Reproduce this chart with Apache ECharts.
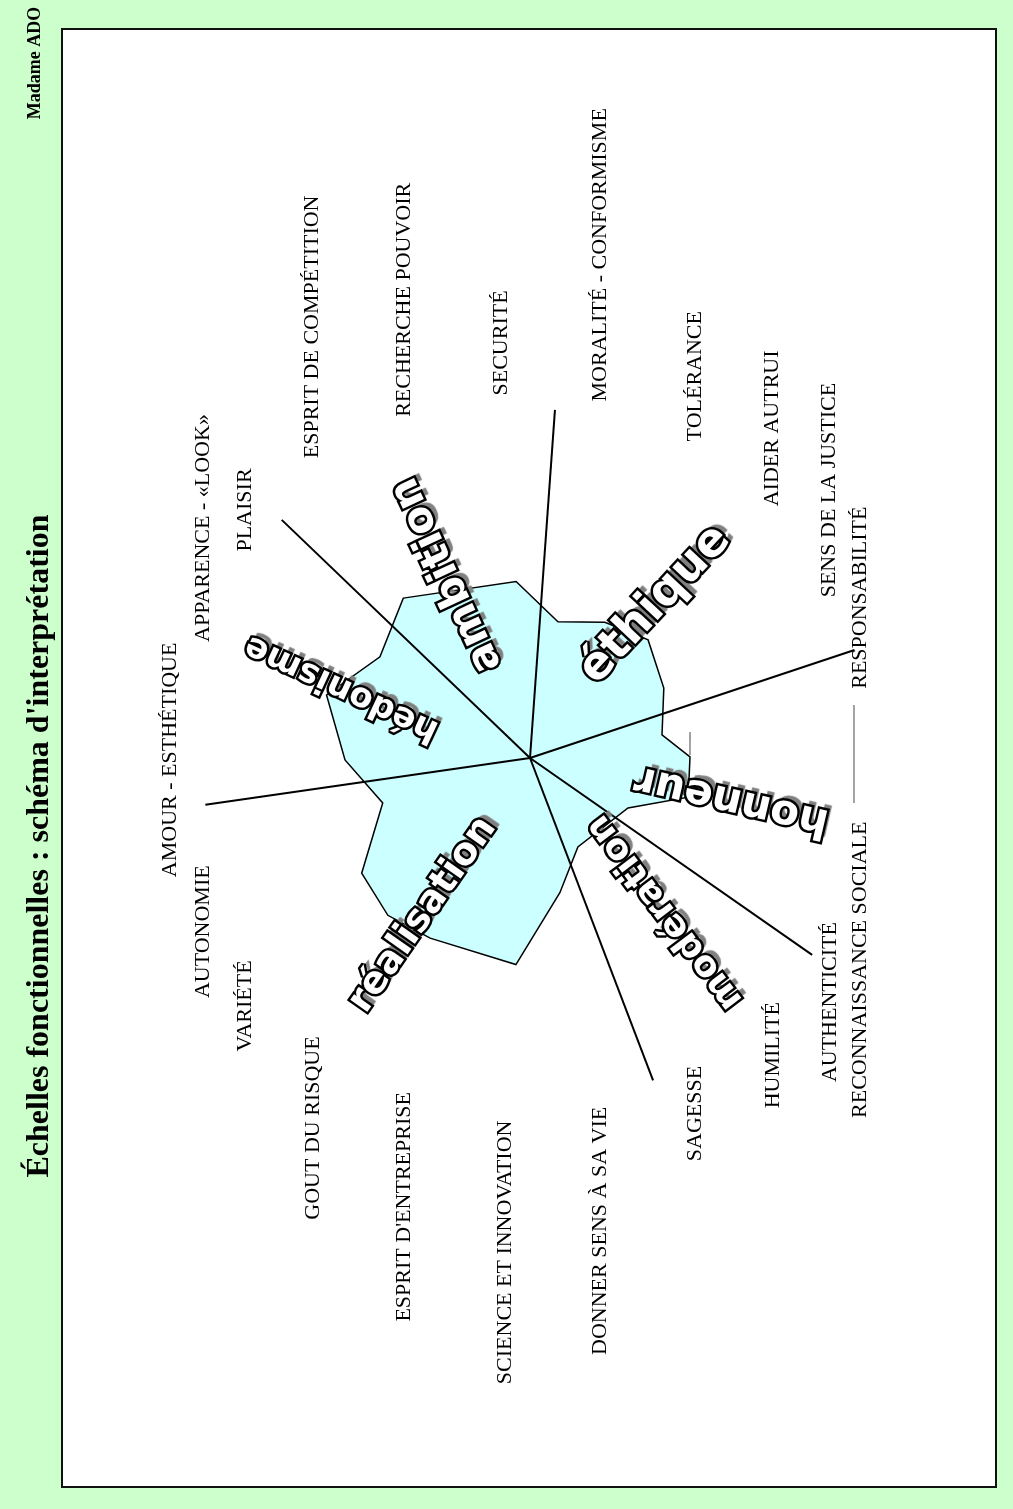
<!DOCTYPE html>
<html>
<head>
<meta charset="utf-8">
<script src="https://cdn.jsdelivr.net/npm/echarts@6/dist/echarts.min.js"></script>
<style>
    html, body { margin: 0; padding: 0; background: #ccffcc; }
    #chart { width: 1013px; height: 1509px; }
</style>
</head>
<body>
<div id="chart"></div>
<script>
// échelles : angle en degrés (0 = droite, sens anti-horaire), distance au centre
const scaleNames = ['AMOUR - ESTHÉTIQUE', 'APPARENCE - «LOOK»', 'PLAISIR', 'ESPRIT DE COMPÉTITION', 'RECHERCHE POUVOIR',
    'SECURITÉ', 'MORALITÉ - CONFORMISME', 'TOLÉRANCE', 'AIDER AUTRUI', 'SENS DE LA JUSTICE', 'RESPONSABILITÉ',
    'RECONNAISSANCE SOCIALE', 'AUTHENTICITÉ', 'HUMILITÉ', 'SAGESSE', 'DONNER SENS À SA VIE', 'SCIENCE ET INNOVATION',
    "ESPRIT D'ENTREPRISE", 'GOUT DU RISQUE', 'VARIÉTÉ', 'AUTONOMIE']
const scaleAngle = [180.3, 144.9, 139, 116.8, 105.3, 93.9, 82.1, 66.6, 53.7, 41.8, 25.9, 327.3, 320.9, 309.3, 294.9, 278.4, 267.1, 254.4, 239.6, 221, 208]
const scaleDist = [360, 400, 378, 483, 475, 416, 508, 416, 409, 402, 367, 392, 387, 384, 392, 478, 495, 466, 429, 378, 370]

// profil (zone bleue)
const profileAngle = [128.4, 94.5, 78.4, 61.1, 45, 27.6, 9.9, 0.4, 346.1, 333, 298.3, 282.5, 266.1, 241, 227.9, 214.4, 197, 180.6, 162.8, 146]
const profileValue = [204, 177, 139, 155, 167, 151, 134, 160, 163, 110, 101, 138, 207, 206, 212, 204, 154, 185, 213, 181]

// axes de séparation
const axisAngle = [136.2, 85.9, 18.4, 325.1, 290.9, 188.2]
const axisLength = [344, 349, 342, 344, 345, 328]

// traits de rappel [r1, a1, r2, a2]
const leaders = [[328.3, 9.3, 327.1, 352.1], [162.1, 9.2, 160, 1.1]]

// familles
const groupNames = ['ambition', 'éthique', 'honneur', 'modération', 'réalisation', 'hédonisme']
const groupAngle = [114.4, 50.7, 348.3, 311.2, 235.7, 159.6]
const groupDist = [201, 198, 206, 205, 190, 201]

const wordRotate = [115, 47, 167, 127, 55, 155]
const wordSize = [42, 46, 42, 36, 38, 34]

const chart = echarts.init(document.getElementById('chart'))

// 3 couches (zlevel) : ombre grise, contour noir, remplissage blanc
function wordLayer(level, style) {
    return {
        type: 'scatter', coordinateSystem: 'polar', silent: true, zlevel: level, z: 2,
        symbolSize: 0,
        itemStyle: { opacity: 1 },
        data: groupNames.map((n, i) => ({
            name: n,
            value: [groupDist[i], groupAngle[i]],
            label: { rotate: wordRotate[i], fontSize: wordSize[i] }
        })),
        label: Object.assign({
            show: true, position: 'inside', formatter: '{b}', opacity: 1,
            fontFamily: 'DejaVu Sans', fontWeight: 'bold'
        }, style)
    }
}

const option = {
    animation: false,
    backgroundColor: '#ccffcc',
    polar: { center: [530, 758], radius: 560 },
    angleAxis: { type: 'value', min: 0, max: 360, startAngle: 0, clockwise: false, show: false },
    radiusAxis: { type: 'value', min: 0, max: 560, show: false },
    graphic: [
        {
            type: 'rect', z: 0, silent: true,
            shape: { x: 62, y: 29, width: 934, height: 1458 },
            style: { fill: '#fff', stroke: '#111', lineWidth: 2 }
        },
        {
            type: 'text', z: 1, x: 40, y: 846, rotation: Math.PI / 2,
            style: {
                text: "Échelles fonctionnelles : schéma d'interprétation",
                font: 'bold 32px "Liberation Serif"', fill: '#000', align: 'center', verticalAlign: 'middle'
            }
        },
        {
            type: 'text', z: 1, x: 35, y: 63, rotation: Math.PI / 2,
            style: {
                text: 'Madame ADO',
                font: 'bold 18px "Liberation Serif"', fill: '#000', align: 'center', verticalAlign: 'middle'
            }
        }
    ],
    series: [
        {
            // zone du profil
            type: 'custom', coordinateSystem: 'polar', silent: true, z: 2,
            data: profileValue.map((v, i) => [v, profileAngle[i]]),
            renderItem: function (params, api) {
                if (params.dataIndex !== 0) return
                const pts = profileValue.map((v, i) => api.coord([v, profileAngle[i]]))
                return {
                    type: 'polygon',
                    shape: { points: pts },
                    style: { fill: '#ccffff', stroke: '#000', lineWidth: 1.5 }
                }
            }
        },
        {
            // axes
            type: 'custom', coordinateSystem: 'polar', silent: true, z: 3,
            data: axisLength.map((v, i) => [v, axisAngle[i]]),
            renderItem: function (params, api) {
                const c = api.coord([0, api.value(1)])
                const p = api.coord([api.value(0), api.value(1)])
                return {
                    type: 'line',
                    shape: { x1: c[0], y1: c[1], x2: p[0], y2: p[1] },
                    style: { stroke: '#000', lineWidth: 2 }
                }
            }
        },
        {
            type: 'custom', coordinateSystem: 'polar', silent: true, z: 3,
            dimensions: ['r1', 'a1', 'r2', 'a2'],
            encode: { radius: 0, angle: 1 },
            data: leaders,
            renderItem: function (params, api) {
                const p1 = api.coord([api.value(0), api.value(1)])
                const p2 = api.coord([api.value(2), api.value(3)])
                return {
                    type: 'line',
                    shape: { x1: p1[0], y1: p1[1], x2: p2[0], y2: p2[1] },
                    style: { stroke: '#666', lineWidth: 1.2 }
                }
            }
        },
        {
            // noms des échelles
            type: 'scatter', coordinateSystem: 'polar', silent: true, z: 4,
            symbolSize: 0,
            itemStyle: { opacity: 1 },
            data: scaleNames.map((n, i) => ({ name: n, value: [scaleDist[i], scaleAngle[i]] })),
            label: {
                show: true, position: 'inside', rotate: 90, formatter: '{b}', opacity: 1,
                color: '#000', fontFamily: 'Liberation Serif', fontSize: 22
            }
        },
        wordLayer(1, {
            color: '#808080',
            textShadowColor: '#808080', textShadowBlur: 1,
            textShadowOffsetX: 5, textShadowOffsetY: -5
        }),
        wordLayer(2, { color: '#000', textBorderColor: '#000', textBorderWidth: 5 }),
        wordLayer(3, { color: '#ffffff', textBorderWidth: 0 })
    ]
}

chart.setOption(option)
</script>
</body>
</html>
